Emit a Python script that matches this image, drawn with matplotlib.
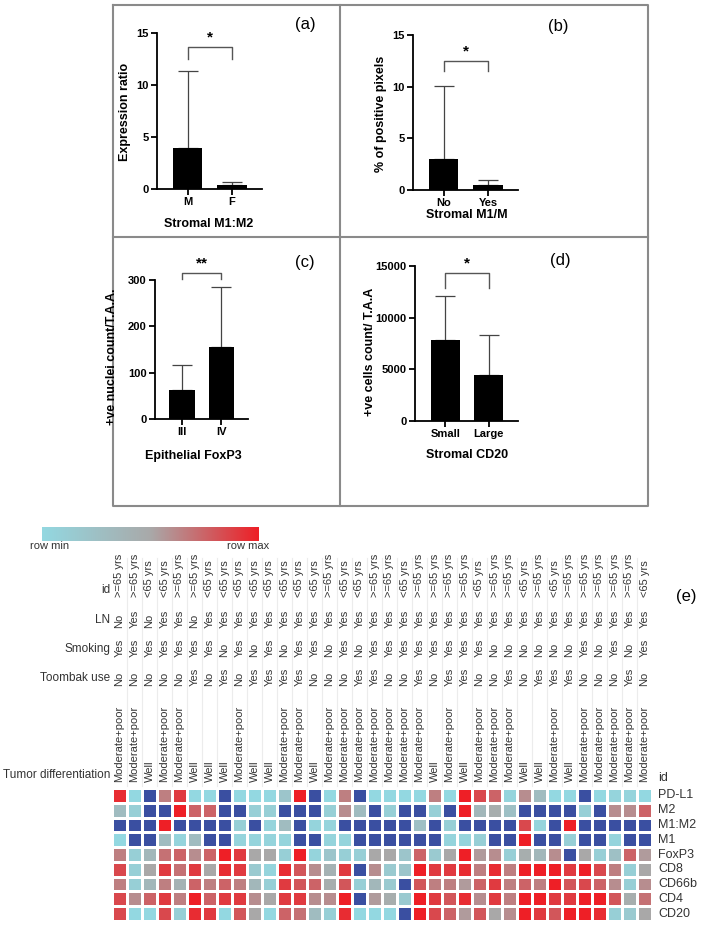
import numpy as np
import matplotlib
matplotlib.use("Agg")
import matplotlib.pyplot as plt
from matplotlib.colors import LinearSegmentedColormap

plt.rcParams['font.family'] = ['Liberation Sans', 'DejaVu Sans']

W, H = 709, 925
nan = np.nan

# ---- bar panels (a)-(d) ----
groups_a = ["M", "F"]
mean_a = [3.9, 0.35]
sd_a = [7.4, 0.35]

groups_b = ["No", "Yes"]
mean_b = [3.0, 0.5]
sd_b = [7.1, 0.45]

groups_c = ["III", "IV"]
mean_c = [62, 155]
sd_c = [55, 130]

groups_d = ["Small", "Large"]
mean_d = [7800, 4500]
sd_d = [4300, 3800]

# ---- heatmap (e) ----
O, Y = ">=65 yrs", "<65 yrs"
age = [O, O, Y, Y, O, O, Y, Y, Y, Y, Y, Y, Y, Y, O, Y, Y, O,
       O, Y, O, O, O, O, Y, O, O, Y, O, Y, O, O, O, O, O, Y]
ln = ["No", "Yes", "No", "Yes", "Yes", "No"] + ["Yes"] * 30
smoking = ["Yes", "Yes", "Yes", "Yes", "Yes", "Yes", "Yes", "No", "Yes", "No", "Yes", "No",
           "Yes", "Yes", "No", "Yes", "No", "Yes", "Yes", "Yes", "Yes", "Yes", "Yes", "Yes",
           "Yes", "No", "No", "No", "No", "No", "No", "Yes", "No", "Yes", "No", "Yes"]
toombak = ["No", "No", "No", "No", "No", "Yes", "No", "Yes", "No", "Yes", "Yes", "Yes",
           "Yes", "No", "No", "No", "Yes", "Yes", "No", "No", "Yes", "No", "Yes", "Yes",
           "No", "No", "Yes", "No", "Yes", "Yes", "Yes", "No", "No", "No", "Yes", "No"]
MP, WL = "Moderate+poor", "Well"
tumor = [MP, MP, WL, MP, MP, WL, WL, WL, MP, WL, WL, MP, MP, WL, MP, MP, MP, MP,
         MP, MP, MP, WL, MP, WL, MP, MP, MP, WL, WL, MP, WL, MP, MP, MP, MP, MP]

markers = ["PD-L1", "M2", "M1:M2", "M1", "FoxP3", "CD8", "CD66b", "CD4", "CD20"]
pdl1 = [0.95, 0, nan, 0.65, 0.9, 0, 0, nan, 0, 0, 0, 0.2, 1, nan, 0, 0.65,
        nan, 0, 0, 0, 0, 0.65, 0, 1, 0.85, 0.75, 0.05, 0.6, 0.3, 0, 0, nan, 0, 0.05, 0.05, 0]
m2 = [0.3, 0.1, nan, nan, 1, 0.75, 0.75, nan, nan, 0.1, 0.1, nan, nan, nan, 0.1, 0.6,
      0.3, nan, 0.1, nan, nan, 0.1, nan, 1, 0.35, 0.45, 0.25, nan, nan, nan, nan, 0.1, nan, 0.6, 0.6, 0.75]
m1m2 = [nan, nan, nan, 1, nan, nan, nan, nan, 0.1, nan, 0.05, 0.3, nan, 0.05, 0.05, nan,
        nan, nan, nan, nan, 0.25, nan, 0.1, nan, nan, nan, nan, 0.85, 0.05, nan, 1, nan, nan, nan, nan, nan]
m1 = [0, nan, nan, 0.3, 0.05, 0.3, nan, nan, 0.05, 0.05, 0.05, 0.05, nan, nan, 0.05, 0.05,
      nan, nan, nan, nan, nan, nan, 0.05, 0.05, 0.1, nan, nan, 1, nan, nan, 0.1, nan, nan, 0.05, nan, nan]
foxp3 = [0.65, 0.1, 0.35, 0.7, 0.75, 0.6, 0.75, 1, 0.9, 0.5, 0.5, 0.1, 1, 0.05, 0.2, 0.1,
         0.1, 0.5, 0.5, 0.2, 0.75, 0.15, 0.5, 1, 0.55, 0.6, 0.1, 0.45, 0.35, 0.6, nan, 0.5, 0.1, 0.25, 0.75, 0.55]
cd8 = [0.85, 0.1, 0.5, 0.9, 0.7, 0.9, 0.5, 0.95, 0.9, 0.15, 0.05, 0.95, 0.8, 0.6, 0.4, 0.9,
       nan, 0.6, 0.15, 0.2, 1, 0.9, 0.9, 0.95, 0.65, 0.95, 0.65, 1, 1, 1, 0.9, 1, 0.85, 0.65, 0.1, 0.5]
cd66b = [0.65, 0.1, 0.35, 0.65, 0.4, 0.75, 0.65, 0.75, 0.65, 0.35, 0.1, 0.9, 0.8, 0.75, 0.45, 0.8,
         0.1, 0.35, 0.15, nan, 0.8, 0.65, 0.65, 0.55, 0.75, 0.9, 0.65, 0.75, 0.65, 1, 0.8, 0.85, 0.75, 0.6, 0.1, 0.6]
cd4 = [0.85, 0.6, 0.75, 0.9, 0.65, 1, 0.75, 0.9, 0.9, 0.6, 0.5, 0.9, 0.9, 0.6, 0.6, 1,
       nan, 0.55, 0.45, 0.15, 1, 0.9, 0.8, 0.95, 0.6, 0.9, 0.65, 1, 1, 0.9, 0.9, 1, 1, 0.8, 0.45, 0.7]
cd20 = [0.85, 0, 0, 0.85, 0.1, 0.95, 0.9, 0, 0.8, 0.5, 0, 0.75, 0.7, 0.3, 0.1, 0.95,
        0, 0, 0, nan, 1, 0.85, 0.75, 0.55, 0.8, 0.5, 0.6, 1, 0.9, 0.8, 1, 1, 0.95, 0.1, 0.15, 0.5]


def rect(x0, y0, x1, y1):
    return [x0 / W, 1 - y1 / H, (x1 - x0) / W, (y1 - y0) / H]


fig = plt.figure(figsize=(W / 100, H / 100), dpi=100)
ov = fig.add_axes([0, 0, 1, 1], zorder=5)
ov.set_xlim(0, W)
ov.set_ylim(H, 0)
ov.axis("off")
ov.patch.set_alpha(0)

# panel frame
fc = "#8a8a8a"
ov.plot([113, 648, 648, 113, 113], [5, 5, 506, 506, 5], color=fc, lw=1.5)
ov.plot([340, 340], [5, 506], color=fc, lw=1.5)
ov.plot([113, 648], [237, 237], color=fc, lw=1.5)

panels = [
    (groups_a, mean_a, sd_a, (157, 33, 262, 189), 15, [0, 5, 10, 15], (13.65, 12.5), "*",
     "Expression ratio", (125, 112), "Stromal M1:M2", (209, 224), "(a)", (305, 25)),
    (groups_b, mean_b, sd_b, (413, 35, 518, 190), 15, [0, 5, 10, 15], (12.5, 11.5), "*",
     "% of positive pixels", (381, 114), "Stromal M1/M", (467, 215), "(b)", (558, 27)),
    (groups_c, mean_c, sd_c, (155, 280, 248, 419), 300, [0, 100, 200, 300], (315, 302), "**",
     "+ve nuclei count/T.A.A.", (112, 357), "Epithelial FoxP3", (193, 456), "(c)", (305, 262)),
    (groups_d, mean_d, sd_d, (415, 266, 518, 421), 15000, [0, 5000, 10000, 15000], (14320, 12870), "*",
     "+ve cells count/ T.A.A", (370, 352), "Stromal CD20", (467, 455), "(d)", (560, 260)),
]

for (grp, mu, sd, box, ymax, yt, br, star, ylab, ylp, xlab, xlp, tag, tagp) in panels:
    ax = fig.add_axes(rect(*box))
    x = np.arange(len(grp))
    ax.errorbar(x, mu, yerr=[np.zeros(len(mu)), sd], fmt="none", ecolor="#444444",
                elinewidth=0.9, capsize=7, capthick=0.9, zorder=1)
    ax.bar(x, mu, width=0.66, color="black", zorder=2)
    ax.set_xlim(-0.7, 1.68)
    ax.set_ylim(0, ymax)
    ax.set_yticks(yt)
    ax.set_xticks(x)
    ax.set_xticklabels(grp)
    for s in ["top", "right"]:
        ax.spines[s].set_visible(False)
    for s in ["left", "bottom"]:
        ax.spines[s].set_linewidth(1.3)
    ax.tick_params(direction="out", length=4, width=1.3, labelsize=8, pad=2)
    for lab in ax.get_xticklabels() + ax.get_yticklabels():
        lab.set_fontweight("bold")
    ax.patch.set_alpha(0)
    top, leg = br
    ax.plot([0, 0, 1, 1], [leg, top, top, leg], color="#555555", lw=1, clip_on=False)
    ax.text(0.5, top + ymax * 0.015, star, ha="center", va="bottom", fontsize=11,
            fontweight="bold", clip_on=False)
    ov.text(ylp[0], ylp[1], ylab, rotation=90, ha="center", va="center",
            fontsize=9, fontweight="bold")
    ov.text(xlp[0], xlp[1], xlab, ha="center", va="center", fontsize=9, fontweight="bold")
    ov.text(tagp[0], tagp[1], tag, ha="center", va="center", fontsize=12)

# ---- heatmap ----
cmap = LinearSegmentedColormap.from_list("rowmap", ["#93d8e1", "#a9a9a9", "#ee1f26"])
cmap.set_bad("#3a4fa1")

lg = fig.add_axes(rect(42, 527, 258, 541))
lg.imshow(np.linspace(0, 1, 256)[None, :], aspect="auto", cmap=cmap)
lg.axis("off")
ov.text(50, 546, "row min", ha="center", va="center", fontsize=8, color="#333333")
ov.text(248, 546, "row max", ha="center", va="center", fontsize=8, color="#333333")
ov.text(686, 597, "(e)", ha="center", va="center", fontsize=12)

data = np.array([pdl1, m2, m1m2, m1, foxp3, cd8, cd66b, cd4, cd20], dtype=float)
ncol = data.shape[1]
hx0, hx1, hy0, hy1 = 112, 652, 788, 921
hm = fig.add_axes(rect(hx0, hy0, hx1, hy1))
hm.pcolormesh(np.ma.masked_invalid(data), cmap=cmap, vmin=0, vmax=1,
              edgecolors="white", linewidth=1)
hm.set_xlim(0, ncol)
hm.set_ylim(data.shape[0], 0)
hm.axis("off")

cw = (hx1 - hx0) / ncol
rh = (hy1 - hy0) / data.shape[0]
for i, m in enumerate(markers):
    ov.text(658, hy0 + rh * (i + 0.5), m, ha="left", va="center", fontsize=9, color="#333333")
ov.text(658, 778, "id", ha="left", va="center", fontsize=9, color="#333333")

for k in range(1, ncol):
    ov.plot([hx0 + cw * k] * 2, [558, 786], color="#ececec", lw=0.8, zorder=0)

ann_rows = [("id", age, 597, 590), ("LN", ln, 628, 620), ("Smoking", smoking, 657, 649),
            ("Toombak use", toombak, 686, 678), ("Tumor differentiation", tumor, 782, 775)]
for name, vals, ybot, ylab in ann_rows:
    ov.text(110, ylab, name, ha="right", va="center", fontsize=8.5, color="#333333")
    for k, v in enumerate(vals):
        ov.text(hx0 + cw * (k + 0.5), ybot, v, rotation=90, ha="center", va="bottom",
                fontsize=8, color="#333333")

fig.savefig("out.png", dpi=100, facecolor="white")
